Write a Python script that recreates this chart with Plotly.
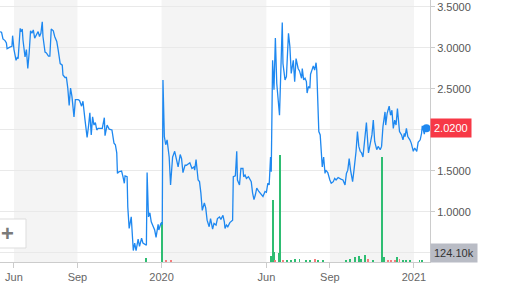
import plotly.graph_objects as go

# ---------------- data ----------------
price_dates = [
"2019-05-12","2019-05-14","2019-05-16","2019-05-19","2019-05-21","2019-05-22","2019-05-26","2019-05-29","2019-05-30",
"2019-06-01","2019-06-04","2019-06-06","2019-06-07","2019-06-10","2019-06-11","2019-06-13","2019-06-14","2019-06-17",
"2019-06-19","2019-06-21","2019-06-23","2019-06-25","2019-06-27","2019-06-29","2019-07-01","2019-07-04","2019-07-06",
"2019-07-08","2019-07-10","2019-07-12","2019-07-13","2019-07-16","2019-07-18","2019-07-21","2019-07-23","2019-07-25",
"2019-07-28","2019-07-30","2019-08-02","2019-08-04","2019-08-07","2019-08-10","2019-08-11","2019-08-14","2019-08-16",
"2019-08-18","2019-08-20","2019-08-22","2019-08-24","2019-08-27","2019-08-29","2019-09-02","2019-09-04","2019-09-07",
"2019-09-09","2019-09-12","2019-09-15","2019-09-17","2019-09-19","2019-09-21","2019-09-23","2019-09-25","2019-09-27",
"2019-09-29","2019-10-01","2019-10-07","2019-10-10","2019-10-11","2019-10-14","2019-10-17","2019-10-21","2019-10-24",
"2019-10-26","2019-10-28","2019-10-29","2019-10-31","2019-11-04","2019-11-06","2019-11-08","2019-11-09","2019-11-12",
"2019-11-13","2019-11-15","2019-11-18","2019-11-21","2019-11-23","2019-11-25","2019-11-28","2019-11-30","2019-12-03",
"2019-12-05","2019-12-09","2019-12-10","2019-12-11","2019-12-13","2019-12-15","2019-12-17","2019-12-20","2019-12-22",
"2019-12-24","2019-12-27","2019-12-28","2019-12-31","2020-01-02","2020-01-03","2020-01-05","2020-01-07","2020-01-09",
"2020-01-12","2020-01-14","2020-01-17","2020-01-20","2020-01-23","2020-01-25","2020-01-28","2020-01-30","2020-02-01",
"2020-02-04","2020-02-06","2020-02-09","2020-02-11","2020-02-14","2020-02-17","2020-02-18","2020-02-20","2020-02-23",
"2020-02-25","2020-02-27","2020-02-29","2020-03-03","2020-03-05","2020-03-07","2020-03-10","2020-03-12","2020-03-15",
"2020-03-17","2020-03-20","2020-03-22","2020-03-25","2020-03-27","2020-03-30","2020-04-01","2020-04-02","2020-04-04",
"2020-04-06","2020-04-09","2020-04-13","2020-04-14","2020-04-17","2020-04-19","2020-04-20","2020-04-23","2020-04-25",
"2020-04-28","2020-04-29","2020-05-01","2020-05-03","2020-05-06","2020-05-10","2020-05-12","2020-05-14","2020-05-16",
"2020-05-18","2020-05-21","2020-05-23","2020-05-26","2020-05-27","2020-05-30","2020-06-01","2020-06-03","2020-06-05",
"2020-06-07","2020-06-08","2020-06-10","2020-06-12","2020-06-14","2020-06-16","2020-06-20","2020-06-22","2020-06-24",
"2020-06-25","2020-06-28","2020-06-30","2020-07-03","2020-07-05","2020-07-07","2020-07-10","2020-07-12","2020-07-14",
"2020-07-17","2020-07-19","2020-07-22","2020-07-23","2020-07-25","2020-07-27","2020-07-29","2020-07-30","2020-08-01",
"2020-08-03","2020-08-04","2020-08-06","2020-08-08","2020-08-10","2020-08-12","2020-08-13","2020-08-14","2020-08-16",
"2020-08-18","2020-08-20","2020-08-21","2020-08-23","2020-08-25","2020-08-26","2020-08-29","2020-09-01","2020-09-03",
"2020-09-06","2020-09-08","2020-09-10","2020-09-13","2020-09-17","2020-09-20","2020-09-23","2020-09-25","2020-09-27",
"2020-09-29","2020-10-01","2020-10-04","2020-10-06","2020-10-09","2020-10-11","2020-10-13","2020-10-15","2020-10-17",
"2020-10-19","2020-10-22","2020-10-24","2020-10-27","2020-10-29","2020-11-01","2020-11-03","2020-11-05","2020-11-08",
"2020-11-10","2020-11-13","2020-11-15","2020-11-17","2020-11-20","2020-11-21","2020-11-23","2020-11-26","2020-11-28",
"2020-11-30","2020-12-02","2020-12-04","2020-12-06","2020-12-08","2020-12-11","2020-12-14","2020-12-16","2020-12-18",
"2020-12-19","2020-12-21","2020-12-23","2020-12-26","2020-12-28","2020-12-31","2021-01-02","2021-01-05","2021-01-07",
"2021-01-10","2021-01-12","2021-01-13","2021-01-16","2021-01-17","2021-01-19",
]
price_values = [
3.20,3.19,3.11,3.09,3.06,2.99,3.01,3.02,3.15,
2.98,2.85,2.89,2.87,3.24,3.20,3.23,3.10,2.89,
2.98,2.75,2.94,3.21,3.18,3.22,3.12,3.16,3.20,
3.14,3.18,3.32,3.14,2.95,2.94,2.90,2.90,3.23,
3.21,3.14,3.08,2.98,2.81,2.79,2.67,2.64,2.64,
2.51,2.30,2.51,2.41,2.16,2.37,2.37,2.36,2.29,
2.35,2.12,1.91,2.04,2.21,1.94,2.16,2.06,2.09,
2.00,2.02,2.02,2.15,1.93,2.06,2.01,2.00,1.84,
1.82,1.72,1.47,1.49,1.50,1.43,1.35,1.44,1.43,
1.06,0.80,0.94,0.53,0.62,0.53,0.67,0.58,0.68,
0.62,0.60,0.60,1.48,0.94,0.99,0.88,0.82,0.78,
0.69,0.85,0.78,0.86,0.85,2.61,1.92,1.82,1.88,
1.67,1.33,1.67,1.74,1.63,1.55,1.70,1.65,1.48,
1.57,1.57,1.59,1.60,1.53,1.55,1.51,1.64,1.39,
1.37,1.23,1.02,1.11,1.05,0.90,0.82,0.92,0.79,
0.86,0.84,0.92,0.94,0.91,0.96,0.88,0.80,0.84,
0.82,0.87,0.90,1.43,1.44,1.74,1.39,1.33,1.53,
1.53,1.43,1.45,1.41,1.43,1.37,1.23,1.15,1.21,
1.29,1.25,1.23,1.19,1.19,1.25,1.24,1.35,1.33,
1.67,1.49,2.85,2.49,3.12,2.57,2.18,2.94,3.31,
2.81,2.61,2.65,3.18,3.02,2.69,2.85,2.59,2.87,
2.75,2.72,2.63,2.75,2.61,2.63,2.59,2.45,2.53,
2.51,2.68,2.73,2.78,2.73,2.82,2.73,2.37,1.98,
1.94,1.70,1.55,1.67,1.47,1.51,1.48,1.39,1.35,
1.37,1.41,1.39,1.42,1.40,1.39,1.33,1.47,1.51,
1.65,1.51,1.37,1.51,1.74,1.98,1.80,1.74,1.72,
1.67,1.88,2.09,1.72,1.82,1.94,2.12,1.86,1.76,
1.80,1.76,1.80,2.04,2.22,2.06,2.20,2.29,2.18,
2.24,2.02,2.12,2.06,2.26,1.98,1.94,1.88,1.96,
1.92,2.02,1.92,1.88,1.84,1.74,1.78,1.74,1.85,
1.88,1.96,2.05,1.95,2.02,2.02,
]

volume_dates = [
"2019-12-10","2020-01-02","2020-01-08","2020-01-15",
"2020-06-08","2020-06-10","2020-06-12","2020-06-14","2020-06-19","2020-06-21","2020-06-25",
"2020-07-01","2020-07-07","2020-07-13","2020-07-19","2020-07-28","2020-08-03","2020-08-10","2020-08-15","2020-08-22",
"2020-09-25","2020-09-30","2020-10-08","2020-10-13","2020-10-16","2020-10-22","2020-10-26","2020-11-03",
"2020-11-16","2020-11-18","2020-11-24","2020-11-29","2020-12-04","2020-12-08","2020-12-11","2020-12-16",
"2020-12-21","2020-12-26","2021-01-09","2021-01-13",
]
volume_values = [
55000,550000,27000,27000,
82000,852000,141000,27000,120000,1470000,27000,
27000,27000,41000,41000,27000,27000,45000,27000,27000,
27000,41000,65000,82000,45000,96000,41000,27000,
1440000,65000,27000,27000,27000,73000,41000,27000,
18000,18000,18000,18000,
]
volume_up = [
True,True,False,False,
True,True,True,False,True,True,False,
True,True,True,True,True,True,False,True,True,
True,True,True,True,True,True,False,True,
True,True,False,False,False,True,False,True,
True,True,True,True,
]

last_price = 2.02
last_volume = 124100

y_ticks = [0.5, 1.0, 1.5, 2.0, 2.5, 3.0, 3.5]
x_tick_dates = ["2019-06-01", "2019-09-01", "2020-01-01", "2020-06-01", "2020-09-01", "2021-01-01"]
x_tick_text = ["Jun", "Sep", "2020", "Jun", "Sep", "2021"]
band_periods = [("2019-06-01", "2019-09-01"), ("2020-01-01", "2020-06-01"), ("2020-09-01", "2021-01-01")]

# ---------------- figure ----------------
FONT = "Liberation Sans, Arial, sans-serif"
fig = go.Figure()

fig.add_trace(go.Bar(
    x=volume_dates, y=volume_values, yaxis="y",
    marker=dict(color=["#2ebd72" if u else "#f47c7c" for u in volume_up], line=dict(width=0)),
    width=[1.4 * 86400000] * len(volume_dates),
    hoverinfo="skip", showlegend=False,
))

fig.add_trace(go.Scatter(
    x=price_dates, y=price_values, yaxis="y2", mode="lines",
    line=dict(color="#1e88f0", width=1.3),
    hoverinfo="skip", showlegend=False,
))

fig.add_trace(go.Scatter(
    x=[price_dates[-1]], y=[price_values[-1]], yaxis="y2", mode="markers",
    marker=dict(color="#1e88f0", size=8),
    hoverinfo="skip", showlegend=False, cliponaxis=False,
))

shapes = []
for a, b in band_periods:
    shapes.append(dict(type="rect", xref="x", yref="paper", x0=a, x1=b, y0=0, y1=1,
                       fillcolor="#f4f4f4", line=dict(width=0), layer="below"))
# zoom "+" button box
shapes.append(dict(type="rect", xref="paper", yref="paper", x0=-0.03, x1=26 / 430,
                   y0=(262 - 248) / 262, y1=(262 - 219) / 262,
                   fillcolor="white", line=dict(color="#dddddd", width=1), layer="above"))
fig.update_layout(shapes=shapes)

# tick labels hidden under the value badges (as in the reference)
covered = {0.5, 2.0}

annotations = [
    dict(xref="paper", yref="y2", x=1.0, y=last_price, xanchor="left", yanchor="middle",
         text="%.4f" % last_price, showarrow=False,
         font=dict(family=FONT, size=11, color="white"),
         bgcolor="#f73846", borderpad=3),
    dict(xref="paper", yref="y", x=1.0, y=last_volume, xanchor="left", yanchor="middle",
         text="%.2fk" % (last_volume / 1000), showarrow=False,
         font=dict(family=FONT, size=11, color="#333333"),
         bgcolor="#b9bcc5", borderpad=3),
    dict(xref="paper", yref="paper", x=7 / 430, y=(262 - 233.5) / 262, xanchor="center", yanchor="middle",
         text="<b>+</b>", showarrow=False, font=dict(family=FONT, size=22, color="#7a7a7a")),
]

fig.update_layout(
    width=522, height=297,
    margin=dict(l=0, r=92, t=0, b=35),
    paper_bgcolor="white", plot_bgcolor="white",
    font=dict(family=FONT, size=11, color="#555555"),
    bargap=0,
    annotations=annotations,
    xaxis=dict(
        type="date", range=["2019-05-11 17:00", "2021-01-24 05:00"],
        tickvals=x_tick_dates, ticktext=x_tick_text,
        showgrid=False, showline=True, linecolor="#cccccc", linewidth=1,
        ticks="outside", ticklen=5, tickcolor="#cccccc",
        tickfont=dict(family=FONT, size=11, color="#666666"),
        zeroline=False, fixedrange=True,
    ),
    yaxis=dict(
        range=[0, 3.6e6], visible=False, showgrid=False, zeroline=False, fixedrange=True,
    ),
    yaxis2=dict(
        overlaying="y", side="right", range=[0.390, 3.585],
        tickvals=y_ticks, ticktext=["" if v in covered else "%.4f" % v for v in y_ticks],
        showgrid=True, gridcolor="#e9e9e9", gridwidth=1,
        showline=True, linecolor="#cccccc", linewidth=1,
        ticks="outside", ticklen=4, tickcolor="#cccccc",
        tickfont=dict(family=FONT, size=11, color="#555555"),
        zeroline=False, fixedrange=True,
    ),
)

fig.write_html("out.html", config={"displayModeBar": False})
